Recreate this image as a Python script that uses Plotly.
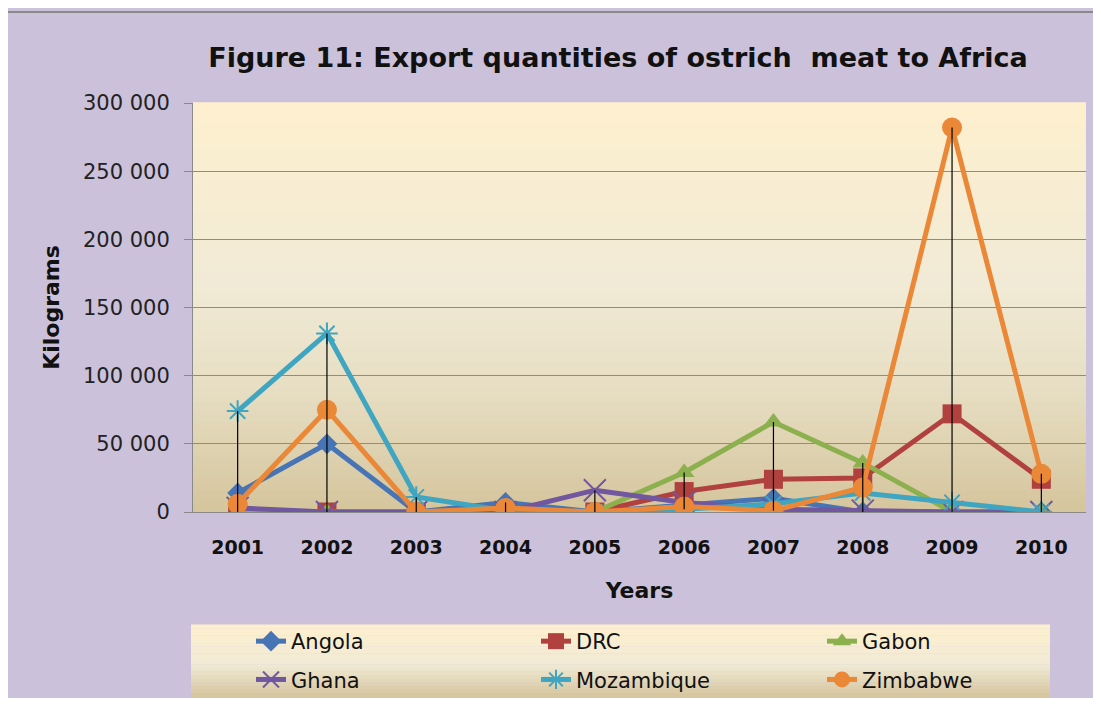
import plotly.graph_objects as go

# ---------------- data ----------------
years = ["2001", "2002", "2003", "2004", "2005", "2006", "2007", "2008", "2009", "2010"]
angola = [14000, 50000, 0, 7000, 0, 5000, 10000, 0, 0, 0]
drc = [0, 0, 0, 0, 0, 15000, 24000, 25000, 72000, 24000]
gabon = [0, 0, 0, 0, 0, 29000, 66000, 36000, 0, 0]
ghana = [3000, 0, 0, 0, 16000, 7000, 2000, 1000, 0, 0]
mozambique = [74000, 131000, 11000, 1000, 0, 2000, 6000, 14000, 7000, 0]
zimbabwe = [6000, 75000, 0, 3000, 0, 4000, 1000, 18000, 282000, 28000]

y_ticks = [0, 50000, 100000, 150000, 200000, 250000, 300000]

series = [
    ("Angola", angola, "#4674B5", "diamond", 16, "legend"),
    ("DRC", drc, "#B0413E", "square", 19, "legend2"),
    ("Gabon", gabon, "#8DB04E", "triangle-up", 18, "legend3"),
    ("Ghana", ghana, "#7156A0", "x-thin-open", 22, "legend"),
    ("Mozambique", mozambique, "#3FA5C0", "asterisk-open", 18, "legend2"),
    ("Zimbabwe", zimbabwe, "#EA8838", "circle", 20, "legend3"),
]

FONT = "'DejaVu Sans', Carlito, 'Open Sans', sans-serif"

# ---------------- geometry ----------------
# the page puts the figure 8 px in from the top-left corner
OFF = 8
W, H = 1101 - 2 * OFF, 706 - 2 * OFF
L, R, T, B = 193 - OFF, 1086 - OFF, 103 - OFF, 512 - OFF
pw, ph = R - L, B - T


def px(x):  # page pixel -> paper x
    return (x - OFF - L) / pw


def py(y):  # page pixel -> paper y
    return (B - (y - OFF)) / ph


fig = go.Figure()

for name, vals, col, sym, size, lg in series:
    lw = 2 if "open" in sym else 0
    fig.add_trace(go.Scatter(
        x=years, y=vals, name=name, mode="lines+markers",
        line=dict(color=col, width=5),
        marker=dict(symbol=sym, size=size, color=col,
                    line=dict(color=col, width=lw)),
        legend=lg, legendgroup=name,
    ))

# high-low lines (min to max across series per year)
all_series = [s[1] for s in series]
hx, hy = [], []
for i, yr in enumerate(years):
    col_vals = [s[i] for s in all_series]
    hx += [yr, yr, None]
    hy += [min(col_vals), max(col_vals), None]
fig.add_trace(go.Scatter(x=hx, y=hy, mode="lines",
                         line=dict(color="#000000", width=1.2),
                         showlegend=False, hoverinfo="skip"))

# ---------------- background shapes ----------------
shapes = []
shapes.append(dict(type="rect", xref="paper", yref="paper",
                   x0=px(7), x1=px(1115), y0=py(720), y1=py(12),
                   fillcolor="#CCC1DA", line=dict(color="#8A8A8A", width=2),
                   layer="below"))


def hexrgb(h):
    h = h.lstrip("#")
    return tuple(int(h[i:i + 2], 16) for i in (0, 2, 4))


def grad_color(stops, t):
    for (t0, c0), (t1, c1) in zip(stops, stops[1:]):
        if t0 <= t <= t1:
            f = (t - t0) / (t1 - t0) if t1 > t0 else 0
            a, b = hexrgb(c0), hexrgb(c1)
            return "rgb(%d,%d,%d)" % tuple(round(a[k] + (b[k] - a[k]) * f) for k in range(3))
    return stops[-1][1]


plot_stops = [(0.0, "#FEF0CF"), (0.45, "#F1EAD6"), (0.7, "#E7DEC3"), (1.0, "#D5C59D")]
n = 60
for i in range(n):
    t0, t1 = i / n, (i + 1) / n
    shapes.append(dict(type="rect", xref="paper", yref="paper",
                       x0=0, x1=1, y0=1 - t1, y1=1 - t0 + 0.002,
                       fillcolor=grad_color(plot_stops, (t0 + t1) / 2),
                       line=dict(width=0), layer="below"))

# legend box gradient (page pixels)
lx0, lx1, ly0, ly1 = 191, 1050, 625, 697
leg_stops = [(0.0, "#FEF0CF"), (0.55, "#F1EAD5"), (1.0, "#D5C59D")]
m = 20
for i in range(m):
    t0, t1 = i / m, (i + 1) / m
    ya = ly0 + (ly1 - ly0) * t0
    yb = ly0 + (ly1 - ly0) * t1
    shapes.append(dict(type="rect", xref="paper", yref="paper",
                       x0=px(lx0), x1=px(lx1), y0=py(yb), y1=py(ya) + 0.001,
                       fillcolor=grad_color(leg_stops, (t0 + t1) / 2),
                       line=dict(width=0), layer="below"))

legend_common = dict(orientation="v", bgcolor="rgba(0,0,0,0)",
                     font=dict(family=FONT, size=21, color="#111111"),
                     xanchor="left", yanchor="top", tracegroupgap=8,
                     itemclick=False, itemdoubleclick=False)

fig.update_layout(
    width=W, height=H,
    margin=dict(l=L, r=W - R, t=T, b=H - B, autoexpand=False),
    paper_bgcolor="#CCC1DA",
    plot_bgcolor="rgba(0,0,0,0)",
    separators=". ",
    shapes=shapes,
    title=dict(text="Figure 11: Export quantities of ostrich\u00a0 meat to Africa",
               x=(618 - OFF) / W, xanchor="center", y=1 - (58 - OFF) / H, yanchor="middle",
               font=dict(family=FONT, size=27, color="#111111", weight="bold")),
    xaxis=dict(type="category", categoryorder="array", categoryarray=years,
               range=[-0.5, len(years) - 0.5],
               showgrid=False, showline=True, linecolor="#8A8A8A", linewidth=1,
               ticks="", tickfont=dict(family=FONT, size=19, color="#111111", weight="bold"),
               ticklabelstandoff=18,
               title=dict(text="Years", standoff=25,
                          font=dict(family=FONT, size=22, color="#111111", weight="bold")),
               fixedrange=True),
    yaxis=dict(range=[0, 300000], tickvals=y_ticks, tickformat=",d",
               showgrid=True, gridcolor="#8C8C8C", gridwidth=1,
               showline=True, linecolor="#8A8A8A", linewidth=1,
               zeroline=False,
               ticks="outside", ticklen=8, tickcolor="#8A8A8A",
               ticklabelstandoff=10,
               tickfont=dict(family=FONT, size=21, color="#222222"),
               title=dict(text="Kilograms", standoff=17,
                          font=dict(family=FONT, size=22, color="#111111", weight="bold")),
               fixedrange=True),
    legend=dict(x=px(251), y=py(621), **legend_common),
    legend2=dict(x=px(536), y=py(621), **legend_common),
    legend3=dict(x=px(822), y=py(621), **legend_common),
    showlegend=True,
)

fig.write_html("out.html")
